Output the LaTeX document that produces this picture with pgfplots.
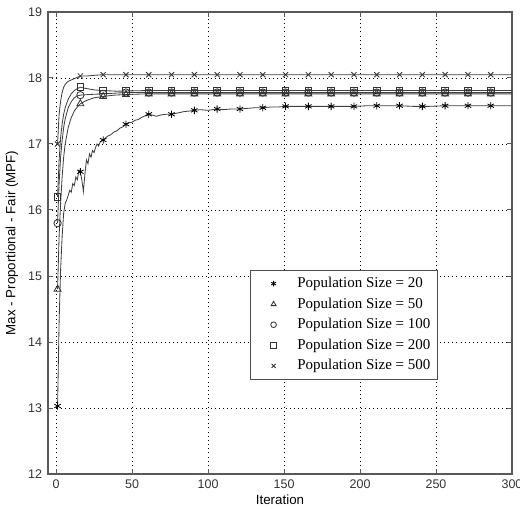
\documentclass[border=0pt]{standalone}
\usepackage{fontspec}
\setmainfont{Liberation Sans}
\newfontfamily\timesfont{Liberation Serif}
\usepackage{pgfplots}
\pgfplotsset{compat=1.18}
\pgfplotsset{mk/.style={only marks, line width=0.5pt,
  legend image code/.code={\path[draw=none, fill=none] (0cm,-0.1cm) rectangle (0.85cm,0.1cm); \draw[mark size=1.7pt] plot coordinates {(0.42cm,0cm)};}}}
\begin{document}
\begin{tikzpicture}
\begin{axis}[name=ax, at={(0,0)}, anchor=south west,
  scale only axis, width=278.4pt, height=277.2pt,
  xmin=-5.3, xmax=300, ymin=12, ymax=19,
  xtick={0,50,...,300}, ytick={12,13,...,19},
  /pgf/number format/assume math mode=true,
  tick label style={font=\fontsize{7.5}{9}\selectfont, black!80},
  label style={font=\fontsize{8}{10}\selectfont},
  xlabel={Iteration}, ylabel={Max - Proportional - Fair (MPF)},
  x label style={at={(axis description cs:0.5,-0.056)}, anchor=center},
  y label style={at={(axis description cs:-0.0776,0.5)}, anchor=center},
  axis line style={black!65, line width=0.8pt},
  tick style={black!65, line width=0.6pt}, major tick length=3pt,
  grid=major, grid style={black, line width=0.5pt, dash pattern=on 0.5pt off 2pt},
  legend style={at={(rel axis cs:0.435,0.4416)}, anchor=north west,
    draw=black!70, line width=0.6pt, font=\timesfont\fontsize{9}{12.2}\selectfont,
    inner sep=2pt, row sep=0.6pt},
  legend cell align=left,
]
% ---------- lines ----------
\addplot[black!75, line width=0.5pt, forget plot] coordinates {
(1,13.03) (2,14.3) (3,15.1) (4,15.6) (5,15.95) (6,16.1) (7,16.15) (8,16.22) (9,16.3) (10,16.27)
(11,16.4) (12,16.37) (13,16.5) (14,16.46) (15,16.6) (16,16.58) (17,16.45) (18,16.28) (19,16.55)
(20,16.76) (21,16.7) (22,16.85) (23,16.8) (24,16.9) (25,16.87) (26,16.95) (27,17.0) (28,16.97)
(29,17.03) (30,17.05) (32,17.08) (34,17.12) (36,17.14) (38,17.18) (40,17.2) (42,17.24) (44,17.26)
(46,17.3) (48,17.32) (50,17.33) (52,17.36) (54,17.37) (56,17.40) (58,17.42) (60,17.45) (63,17.44)
(66,17.42) (69,17.44) (72,17.45) (76,17.45) (80,17.47) (84,17.49) (88,17.50) (91,17.51) (95,17.52)
(100,17.51) (106,17.53) (110,17.52) (115,17.53) (121,17.53) (126,17.54) (131,17.55) (136,17.55)
(141,17.56) (146,17.56) (151,17.57) (160,17.57) (170,17.57) (181,17.57) (190,17.57) (196,17.57)
(205,17.58) (215,17.58) (226,17.58) (235,17.57) (245,17.57) (256,17.58) (265,17.58) (275,17.58)
(286,17.58) (300,17.58)};
\addplot[black!75, line width=0.5pt, forget plot] coordinates {
(1,14.8) (2,15.6) (3,16.1) (4,16.5) (5,16.8) (6,17.0) (8,17.25) (10,17.4) (12,17.5) (14,17.56)
(16,17.61) (20,17.66) (25,17.7) (31,17.72) (38,17.74) (46,17.75) (60,17.76) (300,17.76)};
\addplot[black!75, line width=0.5pt, forget plot] coordinates {
(1,15.8) (2,16.4) (3,16.8) (4,17.05) (5,17.25) (6,17.38) (8,17.55) (10,17.64) (12,17.7) (14,17.73)
(16,17.74) (22,17.75) (31,17.76) (46,17.78) (300,17.78)};
\addplot[black!75, line width=0.5pt, forget plot] coordinates {
(1,16.2) (2,16.75) (3,17.1) (4,17.3) (5,17.45) (6,17.55) (8,17.68) (10,17.76) (12,17.81) (14,17.84)
(16,17.86) (20,17.84) (25,17.82) (31,17.81) (40,17.8) (60,17.81) (300,17.81)};
\addplot[black!75, line width=0.5pt, forget plot] coordinates {
(1,17.0) (2,17.45) (3,17.65) (4,17.78) (5,17.86) (6,17.9) (7,17.93) (8,17.95) (10,17.97)
(12,17.99) (14,18.01) (16,18.03) (20,18.03) (25,18.04) (31,18.05) (300,18.05)};
% ---------- markers ----------
\addplot[mk, mark=asterisk, mark size=2.2pt, black] coordinates {
(1,13.03) (16,16.58) (31,17.06) (46,17.3) (61,17.45) (76,17.45) (91,17.51) (106,17.53) (121,17.53)
(136,17.55) (151,17.57) (166,17.57) (181,17.57) (196,17.57) (211,17.58) (226,17.58) (241,17.57)
(256,17.58) (271,17.58) (286,17.58)};
\addlegendentry{Population Size = 20}
\addplot[mk, mark=triangle, mark size=2.4pt, black!80] coordinates {
(1,14.8) (16,17.61) (31,17.72) (46,17.75) (61,17.76) (76,17.76) (91,17.76) (106,17.76) (121,17.76)
(136,17.76) (151,17.76) (166,17.76) (181,17.76) (196,17.76) (211,17.76) (226,17.76) (241,17.76)
(256,17.76) (271,17.76) (286,17.76)};
\addlegendentry{Population Size = 50}
\addplot[mk, mark=o, mark size=2.2pt, black!80] coordinates {
(1,15.8) (16,17.74) (31,17.76) (46,17.78) (61,17.78) (76,17.78) (91,17.78) (106,17.78) (121,17.78)
(136,17.78) (151,17.78) (166,17.78) (181,17.78) (196,17.78) (211,17.78) (226,17.78) (241,17.78)
(256,17.78) (271,17.78) (286,17.78)};
\addlegendentry{Population Size = 100}
\addplot[mk, mark=square, mark size=2pt, black!80] coordinates {
(1,16.2) (16,17.86) (31,17.81) (46,17.8) (61,17.81) (76,17.81) (91,17.81) (106,17.81) (121,17.81)
(136,17.81) (151,17.81) (166,17.81) (181,17.81) (196,17.81) (211,17.81) (226,17.81) (241,17.81)
(256,17.81) (271,17.81) (286,17.81)};
\addlegendentry{Population Size = 200}
\addplot[mk, mark=x, mark size=2.2pt, black!80] coordinates {
(1,17.0) (16,18.03) (31,18.05) (46,18.05) (61,18.05) (76,18.05) (91,18.05) (106,18.05) (121,18.05)
(136,18.05) (151,18.05) (166,18.05) (181,18.05) (196,18.05) (211,18.05) (226,18.05) (241,18.05)
(256,18.05) (271,18.05) (286,18.05)};
\addlegendentry{Population Size = 500}
\end{axis}
\pgfresetboundingbox
\useasboundingbox (-28.8pt,-20.4pt) rectangle (283.2pt,284.4pt);
\end{tikzpicture}
\end{document}
